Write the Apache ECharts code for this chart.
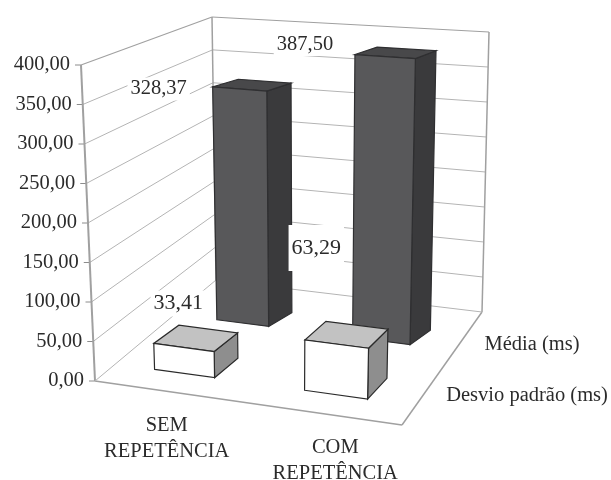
<!DOCTYPE html>
<html><head><meta charset="utf-8">
<style>html,body{margin:0;padding:0;background:#fff}#c{width:611px;height:480px;filter:blur(0.4px)}</style>
<script src="https://cdn.jsdelivr.net/npm/echarts@6/dist/echarts.min.js"></script>
</head><body><div id="c"></div>
<script>
// ---- data ----
const categories = ['SEM\nREPETÊNCIA', 'COM\nREPETÊNCIA'];
const seriesNames = ['Desvio padrão (ms)', 'Média (ms)'];
const desvio = [33.41, 63.29];
const media = [328.37, 387.50];
const valueTicks = [0, 50, 100, 150, 200, 250, 300, 350, 400];

// ---- projection of the 3D box: (u along categories, v depth, value) -> screen ----
const W = 611, H = 480, MAXV = 400;
const C = {
  f0: [[95,381],[81,65]], f1: [[402,425],[412,92]],
  b0: [[216,280],[212,17]], b1: [[482,312],[489,32]]
};
const mix = (a,b,t)=>[a[0]+(b[0]-a[0])*t, a[1]+(b[1]-a[1])*t];
function proj(u,v,val){
  const t = val/MAXV;
  const p0 = mix(mix(C.f0[0],C.f1[0],u), mix(C.b0[0],C.b1[0],u), v);
  const p1 = mix(mix(C.f0[1],C.f1[1],u), mix(C.b0[1],C.b1[1],u), v);
  return mix(p0,p1,t);
}
const catCenter = i => (i+0.5)/categories.length;
// footprint of the boxes: [row][category] -> u extent; row -> v extent and back-edge skew
const U_RANGE = [[[0.13,0.33],[0.63,0.84]],[[0.15,0.335],[0.635,0.84]]];
const DEPTH = [[0.17,0.36],[0.66,0.80]];
const SKEW = [0.01,0.03];
const fmt = v => v.toFixed(2).replace('.',',');
const SERIF = '"Liberation Serif","Times New Roman",serif';
const LINE = '#b4b4b4', EDGE = '#a0a0a0';

function wallsItem(p, api){
  const c = (u,v,val)=>api.coord(proj(u,v,val));
  const ln = (a,b,col,w)=>({type:'line',shape:{x1:a[0],y1:a[1],x2:b[0],y2:b[1]},style:{stroke:col,lineWidth:w}});
  const ch = [];
  valueTicks.forEach(t=>{
    const a=c(0,0,t), b=c(0,1,t), d=c(1,1,t);
    if(t>0 && t<MAXV){ ch.push(ln(a,b,LINE,1)); ch.push(ln(b,d,LINE,1)); }
    ch.push(ln([a[0]-6,a[1]],a,'#8c8c8c',1));
  });
  ch.push(ln(c(0,0,0),c(0,0,MAXV),EDGE,2));
  ch.push(ln(c(0,1,0),c(0,1,MAXV),EDGE,1.5));
  ch.push(ln(c(1,1,0),c(1,1,MAXV),EDGE,1.5));
  ch.push(ln(c(0,0,MAXV),c(0,1,MAXV),EDGE,1.2));
  ch.push(ln(c(0,1,MAXV),c(1,1,MAXV),EDGE,1.2));
  ch.push(ln(c(0,0,0),c(1,0,0),EDGE,1.5));
  ch.push(ln(c(1,0,0),c(1,1,0),EDGE,1.5));
  ch.push(ln(c(0,0,0),c(0,1,0),LINE,1));
  ch.push(ln(c(0,1,0),c(1,1,0),LINE,1));
  return {type:'group',children:ch};
}
function barItem(cols, stroke){
  return function(p, api){
    const i = api.value(0), d = api.value(1), val = api.value(2);
    const [u0,u1] = U_RANGE[d][i];
    const [v0,v1] = DEPTH[d];
    const s = SKEW[d];
    const c = (u,v,w)=>api.coord(proj(u,v,w));
    const poly = (pts,fill)=>({type:'polygon',shape:{points:pts},style:{fill,stroke,lineWidth:1.2}});
    return {type:'group',children:[
      poly([c(u1,v0,0),c(u1+s,v1,0),c(u1+s,v1,val),c(u1,v0,val)],cols.side),
      poly([c(u0,v0,val),c(u1,v0,val),c(u1+s,v1,val),c(u0+s,v1,val)],cols.top),
      poly([c(u0,v0,0),c(u1,v0,0),c(u1,v0,val),c(u0,v0,val)],cols.front)
    ]};
  };
}
const textEl = (x,y,text,size,align,extra)=>({type:'text',style:Object.assign({x,y,text,fill:'#2b2b2b',
  font:size+'px '+SERIF,align:align||'center',verticalAlign:'middle'},extra||{})});

const base = {type:'custom',coordinateSystem:'cartesian2d',clip:false,silent:true,animation:false,encode:{x:0,y:1}};

const option = {
  animation:false,
  grid:{left:0,right:0,top:0,bottom:0},
  xAxis:{type:'value',min:0,max:W,show:false},
  yAxis:{type:'value',min:0,max:H,inverse:true,show:false},
  series:[
    Object.assign({},base,{z:1,data:[[0,0]],renderItem:wallsItem}),
    Object.assign({},base,{z:2,data:media.map((m,i)=>[i,1,m]),
      renderItem:barItem({front:'#58585a',side:'#3a3a3c',top:'#48484a'},'#2f2f31')}),
    Object.assign({},base,{z:3,data:desvio.map((m,i)=>[i,0,m]),
      renderItem:barItem({front:'#ffffff',side:'#8e8e8e',top:'#c2c2c2'},'#2a2a2a')}),
    Object.assign({},base,{z:4,data:media.map((m,i)=>[i,1,m]),renderItem(p,api){
      const i=api.value(0),val=api.value(2);
      const a=api.coord(proj(U_RANGE[1][i][0],DEPTH[1][0],val));
      const off=[[-54,2],[-50,-10]][i];
      return textEl(a[0]+off[0],a[1]+off[1],fmt(val),20.5,'center',{backgroundColor:'#fff',padding:[1,3]});
    }}),
    Object.assign({},base,{z:4,data:desvio.map((m,i)=>[i,0,m]),renderItem(p,api){
      const i=api.value(0),val=api.value(2);
      const a=api.coord(proj(U_RANGE[0][i][0],DEPTH[0][0],val));
      const off=[[24.5,-40],[11.5,-92]][i];
      const pad=[[2,3],[12,3]][i];
      return textEl(a[0]+off[0],a[1]+off[1],fmt(val),22,'center',{backgroundColor:'#fff',padding:pad});
    }}),
    Object.assign({},base,{z:4,data:valueTicks.map(t=>[0,0,t]),renderItem(p,api){
      const t=api.value(2); const a=api.coord(proj(0,0,t));
      return textEl(a[0]-11,a[1],fmt(t),20.5,'right');
    }}),
    Object.assign({},base,{z:4,data:categories.map((c,i)=>[i,0]),renderItem(p,api){
      const i=api.value(0); const a=api.coord(proj(catCenter(i),0,0));
      return textEl(a[0]-5+i*15,a[1]+47,categories[i],20.5,'center',{lineHeight:26});
    }}),
    Object.assign({},base,{z:4,data:seriesNames.map((c,i)=>[i]),renderItem(p,api){
      const i=api.value(0); const a=api.coord(proj(1,(DEPTH[i][0]+DEPTH[i][1])/2,0));
      const off=[[23,1],[24,2]][i];
      return textEl(a[0]+off[0],a[1]+off[1],seriesNames[i],20.5,'left');
    }})
  ]
};
const chart = echarts.init(document.getElementById('c'),null,{renderer:'canvas'});
chart.setOption(option);
</script></body></html>
